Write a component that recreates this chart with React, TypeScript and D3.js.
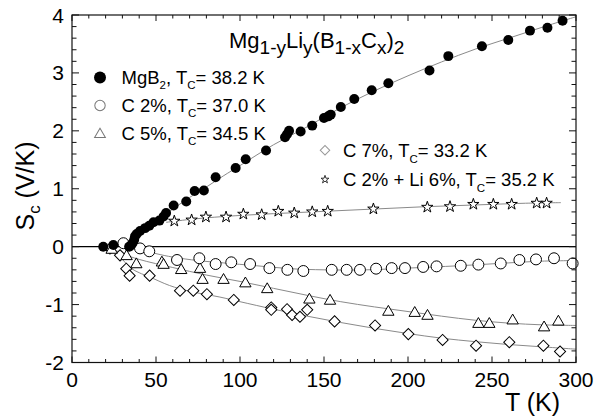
import React from "react";
import * as d3 from "d3";

// ---------- data ----------
const mgb2T = [18.6, 24.6, 34, 35, 36, 37, 37.5, 38.5, 40.5, 43.5, 46, 48.5, 52, 54.5, 56, 60.5, 68, 73, 78.5, 85.5, 97.4, 103.4, 115.5, 126.8, 128, 129.2, 136.1, 143, 150, 152.5, 154, 160, 168, 178.4, 188.3, 212.8, 224, 244, 259.7, 272.6, 283, 292];
const mgb2S = [0.0, 0.03, 0.0, 0.02, 0.06, 0.12, 0.18, 0.22, 0.27, 0.32, 0.36, 0.42, 0.45, 0.52, 0.58, 0.71, 0.78, 0.96, 0.97, 1.2, 1.36, 1.51, 1.66, 1.89, 1.94, 2.0, 1.99, 2.09, 2.22, 2.25, 2.28, 2.41, 2.55, 2.7, 2.82, 3.04, 3.29, 3.46, 3.57, 3.73, 3.78, 3.9];

const c2T = [30.6, 40.5, 46, 62.5, 75.8, 85.5, 94.8, 106, 117.5, 128.2, 137.7, 154.6, 163.5, 171.4, 181, 190.3, 198.2, 209, 217, 231.4, 241.9, 255.2, 266.3, 276.2, 286.9, 298];
const c2S = [0.06, -0.03, -0.08, -0.23, -0.2, -0.3, -0.27, -0.3, -0.37, -0.4, -0.42, -0.4, -0.4, -0.4, -0.38, -0.37, -0.37, -0.35, -0.34, -0.33, -0.31, -0.29, -0.23, -0.22, -0.2, -0.29];

const c5T = [23.6, 32.5, 38.3, 53.5, 54.5, 65, 76.2, 77.7, 90.2, 103.2, 116.2, 141.3, 153.6, 188.3, 204, 211.6, 241.9, 248.4, 262.3, 281, 289.5];
const c5S = [-0.04, -0.15, -0.29, -0.26, -0.3, -0.39, -0.37, -0.56, -0.56, -0.62, -0.72, -0.9, -0.92, -1.11, -1.13, -1.18, -1.32, -1.32, -1.26, -1.38, -1.28];

const c7T = [22.6, 28.6, 32.3, 34.3, 46.2, 64.3, 72.2, 80.3, 96.3, 118.6, 118.6, 128, 131, 135.7, 140, 156.3, 180.4, 200.2, 220.6, 240.5, 260.3, 280.6, 290.5];
const c7S = [-0.03, -0.15, -0.38, -0.5, -0.5, -0.76, -0.76, -0.82, -0.92, -1.05, -1.09, -1.08, -1.18, -1.21, -1.09, -1.29, -1.36, -1.51, -1.61, -1.71, -1.65, -1.71, -1.81];

const liT = [60.9, 71.2, 79.7, 91.7, 102, 112.9, 122.8, 132.3, 143, 152.2, 179.4, 211.5, 225, 238.9, 250.8, 261.7, 276.6, 282.5];
const liS = [0.45, 0.47, 0.52, 0.52, 0.57, 0.56, 0.62, 0.59, 0.61, 0.62, 0.66, 0.69, 0.7, 0.74, 0.74, 0.74, 0.76, 0.76];

// guide-line (fit) curves
const fitMgb2T = [34, 37, 40, 50, 60, 70, 80, 90, 100, 120, 140, 160, 180, 200, 220, 240, 260, 280, 300];
const fitMgb2S = [0, 0.15, 0.26, 0.45, 0.65, 0.85, 1.03, 1.22, 1.4, 1.76, 2.07, 2.4, 2.69, 2.95, 3.19, 3.41, 3.6, 3.79, 3.97];
const fitC2T = [25, 30, 40, 50, 60, 75, 90, 110, 130, 150, 175, 200, 230, 260, 280, 300];
const fitC2S = [0.04, 0.04, -0.04, -0.12, -0.18, -0.24, -0.28, -0.33, -0.38, -0.4, -0.4, -0.37, -0.33, -0.28, -0.25, -0.24];
const fitC5T = [22, 30, 40, 60, 80, 100, 120, 140, 160, 180, 200, 220, 240, 260, 280, 300];
const fitC5S = [0, -0.12, -0.22, -0.36, -0.49, -0.6, -0.72, -0.84, -0.95, -1.04, -1.12, -1.2, -1.27, -1.32, -1.35, -1.36];
const fitC7T = [24, 30, 35, 40, 46, 58, 70, 88, 100, 120, 140, 160, 180, 200, 220, 240, 260, 280, 300];
const fitC7S = [-0.03, -0.22, -0.37, -0.45, -0.52, -0.67, -0.77, -0.87, -0.95, -1.08, -1.2, -1.31, -1.41, -1.5, -1.58, -1.64, -1.69, -1.73, -1.77];
const fitLiT = [56, 70, 90, 120, 150, 180, 210, 240, 270, 291];
const fitLiS = [0.42, 0.47, 0.52, 0.57, 0.61, 0.65, 0.69, 0.72, 0.75, 0.76];

const xTicks = [0, 50, 100, 150, 200, 250, 300];
const yTicks = [-2, -1, 0, 1, 2, 3, 4];
const xMinor = d3.range(0, 301, 10);
const yMinor = d3.range(-2, 4.01, 0.2);

const titleText = "Mg_{1-y}Li_{y}(B_{1-x}C_{x})_{2}";
const legendLeft = ["MgB_{2}, T_{C}= 38.2 K", "C 2%, T_{C}= 37.0 K", "C 5%, T_{C}= 34.5 K"];
const legendRight = ["C 7%, T_{C}= 33.2 K", "C 2% + Li 6%, T_{C}= 35.2 K"];
const xLabel = "T (K)";
const yLabel = "S_{c} (V/K)";

// ---------- layout ----------
const W = 596, H = 419;
const L = 72, R = 576, T = 15, B = 362.5;
const FONT = "'Liberation Sans', Arial, Helvetica, sans-serif";

const x = d3.scaleLinear().domain([0, 300]).range([L, R]);
const y = d3.scaleLinear().domain([-2, 4]).range([B, T]);

function parseRich(s: string) {
  const parts: { t: string; sub: boolean }[] = [];
  const re = /_\{([^}]*)\}/g;
  let last = 0, m;
  while ((m = re.exec(s))) {
    if (m.index > last) parts.push({ t: s.slice(last, m.index), sub: false });
    parts.push({ t: m[1], sub: true });
    last = re.lastIndex;
  }
  if (last < s.length) parts.push({ t: s.slice(last), sub: false });
  return parts;
}

function Rich({ s, size, subSize, dy }: { s: string; size: number; subSize: number; dy: number }) {
  const parts = parseRich(s);
  let cur = 0;
  return (
    <>
      {parts.map((p, i) => {
        const target = p.sub ? dy : 0;
        const d = target - cur;
        cur = target;
        return (
          <tspan key={i} dy={d} fontSize={p.sub ? subSize : size}>
            {p.t}
          </tspan>
        );
      })}
    </>
  );
}

const zip = (a: number[], b: number[]) => a.map((v, i) => [v, b[i]] as [number, number]);

const line = d3
  .line<[number, number]>()
  .x((d) => x(d[0]))
  .y((d) => y(d[1]))
  .curve(d3.curveCatmullRom.alpha(0.5));

const circleSym = (area: number) => d3.symbol(d3.symbolCircle, area)()!;
const triSym = d3.symbol(d3.symbolTriangle, 56)()!;
const sqSym = d3.symbol(d3.symbolSquare, 62)()!;
const starSym = d3.symbol(d3.symbolStar, 40)()!;

type Kind = "filled" | "circle" | "tri" | "diamond" | "star";

function Marker({ kind, cx, cy, scale = 1, stroke = "#000" }: { kind: Kind; cx: number; cy: number; scale?: number; stroke?: string }) {
  const common = { strokeWidth: 1 / scale, stroke };
  if (kind === "filled")
    return <path d={circleSym(78)} transform={`translate(${cx},${cy}) scale(${scale})`} fill="#000" stroke="none" />;
  if (kind === "circle")
    return <path d={circleSym(94)} transform={`translate(${cx},${cy}) scale(${scale})`} fill="#fff" {...common} />;
  if (kind === "tri")
    return <path d={triSym} transform={`translate(${cx},${cy + 1}) scale(${scale})`} fill="#fff" {...common} />;
  if (kind === "diamond")
    return <path d={sqSym} transform={`translate(${cx},${cy}) rotate(45) scale(${scale})`} fill="#fff" {...common} />;
  return <path d={starSym} transform={`translate(${cx},${cy + 0.5}) scale(${scale})`} fill="#fff" {...common} />;
}

const series: { kind: Kind; t: number[]; s: number[]; ft: number[]; fs: number[] }[] = [
  { kind: "star", t: liT, s: liS, ft: fitLiT, fs: fitLiS },
  { kind: "diamond", t: c7T, s: c7S, ft: fitC7T, fs: fitC7S },
  { kind: "tri", t: c5T, s: c5S, ft: fitC5T, fs: fitC5S },
  { kind: "circle", t: c2T, s: c2S, ft: fitC2T, fs: fitC2S },
  { kind: "filled", t: mgb2T, s: mgb2S, ft: fitMgb2T, fs: fitMgb2S },
];

export default function App() {
  const axisColor = "#111";
  return (
    <svg
      width={W}
      height={H}
      viewBox={`0 0 ${W} ${H}`}
      style={{ position: "absolute", left: 0, top: 0, background: "#fff" }}
      fontFamily={FONT}
    >
      <rect x={0} y={0} width={W} height={H} fill="#fff" />

      {/* fit lines */}
      {series.map((se, i) => (
        <path key={"f" + i} d={line(zip(se.ft, se.fs))!} fill="none" stroke="#8a8a8a" strokeWidth={1} />
      ))}

      {/* zero line */}
      <line x1={L} x2={R} y1={y(0)} y2={y(0)} stroke="#000" strokeWidth={1.3} />

      {/* markers */}
      {series.map((se, i) => (
        <g key={"m" + i}>
          {se.t.map((tv, j) => (
            <Marker key={j} kind={se.kind} cx={x(tv)} cy={y(se.s[j])} />
          ))}
        </g>
      ))}

      {/* frame */}
      <rect x={L} y={T} width={R - L} height={B - T} fill="none" stroke={axisColor} strokeWidth={1.2} />

      {/* ticks */}
      {xMinor.map((v) => {
        const major = v % 50 === 0;
        const len = major ? 6 : 3.5;
        return (
          <g key={"xt" + v}>
            <line x1={x(v)} x2={x(v)} y1={B} y2={B - len} stroke={axisColor} strokeWidth={1} />
            <line x1={x(v)} x2={x(v)} y1={T} y2={T + len} stroke={axisColor} strokeWidth={1} />
          </g>
        );
      })}
      {yMinor.map((v, i) => {
        const major = i % 5 === 0;
        const len = major ? 7 : 4.5;
        return (
          <g key={"yt" + i}>
            <line x1={L} x2={L + len} y1={y(v)} y2={y(v)} stroke={axisColor} strokeWidth={1} />
            <line x1={R} x2={R - len} y1={y(v)} y2={y(v)} stroke={axisColor} strokeWidth={1} />
          </g>
        );
      })}

      {/* tick labels */}
      {xTicks.map((v) => (
        <text key={"xl" + v} x={x(v)} y={387} textAnchor="middle" fontSize={21} fill="#000">
          {v}
        </text>
      ))}
      {yTicks.map((v) => (
        <text key={"yl" + v} x={64} y={y(v) + 7.5} textAnchor="end" fontSize={21} fill="#000">
          {v}
        </text>
      ))}

      {/* axis labels */}
      <text x={505} y={411} fontSize={25} fill="#000">
        {xLabel}
      </text>
      <text transform={`translate(34,186) rotate(-90)`} textAnchor="middle" fontSize={25} fill="#000">
        <Rich s={yLabel} size={25} subSize={17} dy={6} />
      </text>

      {/* title */}
      <text x={229} y={47.5} fontSize={22} fill="#000">
        <Rich s={titleText} size={22} subSize={19} dy={6} />
      </text>

      {/* legend left */}
      {legendLeft.map((lab, i) => {
        const ly = 84 + i * 28;
        const kind: Kind = (["filled", "circle", "tri"] as Kind[])[i];
        return (
          <g key={"ll" + i}>
            <Marker kind={kind} cx={100} cy={ly - 6.5} scale={kind === "filled" ? 1.2 : 0.95} stroke="#777" />
            <text x={121.5} y={ly} fontSize={18.5} fill="#000">
              <Rich s={lab} size={18.5} subSize={11.5} dy={5} />
            </text>
          </g>
        );
      })}

      {/* legend right */}
      {legendRight.map((lab, i) => {
        const ly = 157.3 + i * 28.7;
        const kind: Kind = (["diamond", "star"] as Kind[])[i];
        return (
          <g key={"lr" + i}>
            <Marker kind={kind} cx={325} cy={ly - 7} scale={kind === "star" ? 0.7 : 0.85} stroke={kind === "star" ? "#333" : "#999"} />
            <text x={343} y={ly} fontSize={18.5} fill="#000">
              <Rich s={lab} size={18.5} subSize={11.5} dy={5.5} />
            </text>
          </g>
        );
      })}
    </svg>
  );
}
